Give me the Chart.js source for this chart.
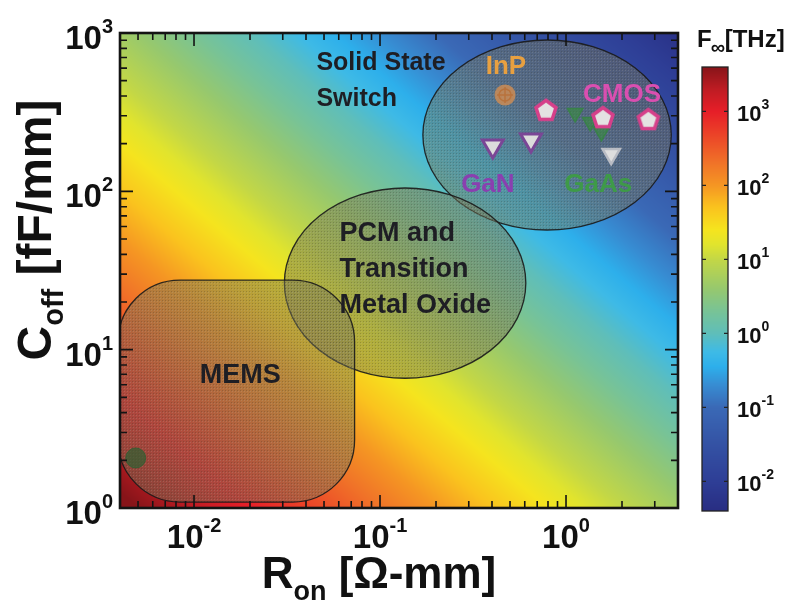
<!DOCTYPE html>
<html><head><meta charset="utf-8">
<script src="https://cdn.jsdelivr.net/npm/chart.js@4.4.0/dist/chart.umd.min.js"></script>
<style>
html,body{margin:0;padding:0;background:#fff;}
#wrap{position:relative;width:791px;height:612px;overflow:hidden;}
#wrap canvas{position:absolute;left:0;top:0;}
</style>
</head><body>
<div id="wrap"><canvas id="main" width="791" height="612"></canvas><canvas id="cbar" width="791" height="612"></canvas></div>
<script>
// ---------------- DATA ----------------
const xLimits = [0.004, 4];          // R_on [Ohm-mm]
const yLimits = [1, 1000];           // C_off [fF/mm]
const xTickValues = [0.01, 0.1, 1];
const yTickValues = [1, 10, 100, 1000];
const cbLimits = [Math.pow(10, -2.4), Math.pow(10, 3.6)]; // F_co [THz]
const cbTickValues = [0.01, 0.1, 1, 10, 100, 1000];
const fcScale = 20;                   // F_co [THz] = fcScale / (R_on * C_off)

const inpR = [0.47];              const inpC = [406];
const cmosR = [0.78, 1.58, 2.77]; const cmosC = [327, 294, 286];
const ganR = [0.404, 0.648];      const ganC = [193, 211];
const gaasR = [1.12, 1.35, 1.55]; const gaasC = [312, 274, 237];
const gaasOtherR = [1.75];        const gaasOtherC = [172];
const memsDevR = [0.00486];       const memsDevC = [2.07];

const regionNames = ['Solid State Switch', 'PCM and Transition Metal Oxide', 'MEMS'];
const regionRmin = [0.17, 0.0306, 0.0039];
const regionRmax = [3.68, 0.608, 0.073];
const regionCmin = [57, 6.6, 1.09];
const regionCmax = [903, 105, 27.5];

const regionLabelLines = [['Solid State', 'Switch'], ['PCM and', 'Transition', 'Metal Oxide'], ['MEMS']];
const regionLabelR = [0.0455, 0.0605, 0.0177];
const regionLabelC = [674, 56.1, 7.11];

const groupLabels = ['InP', 'CMOS', 'GaN', 'GaAs'];
const groupLabelR = [0.475, 2.0, 0.38, 1.49];
const groupLabelC = [637, 424, 114.6, 114.6];

// ---------------- STYLE ----------------
const cmapStops = [
  [-2.4, [40, 45, 130]], [-2.0, [46, 62, 150]], [-1.5, [52, 82, 164]], [-1.0, [58, 105, 182]],
  [-0.7, [55, 140, 210]], [-0.45, [45, 175, 235]], [-0.25, [62, 186, 230]], [0.0, [95, 190, 185]],
  [0.3, [120, 195, 150]], [0.6, [150, 200, 110]], [1.0, [195, 215, 70]], [1.2, [225, 228, 45]],
  [1.4, [245, 228, 30]], [1.7, [250, 195, 30]], [2.0, [245, 150, 35]], [2.3, [240, 115, 40]],
  [2.7, [235, 65, 40]], [3.0, [230, 30, 40]], [3.3, [190, 28, 35]], [3.6, [135, 20, 25]]
];
const regionShapes = ['ellipse', 'ellipse', 'roundrect'];
const regionLabelSizes = [25, 27, 27];
const groupLabelColors = ['#e8a040', '#d94fb0', '#8a3fb0', '#3e9a48'];
const FONT = '"Liberation Sans", Arial, Helvetica, sans-serif';

function cmap(logF) {
  if (logF <= cmapStops[0][0]) return cmapStops[0][1];
  const n = cmapStops.length;
  if (logF >= cmapStops[n - 1][0]) return cmapStops[n - 1][1];
  for (let i = 0; i < n - 1; i++) {
    const a = cmapStops[i], b = cmapStops[i + 1];
    if (logF >= a[0] && logF <= b[0]) {
      const t = (logF - a[0]) / (b[0] - a[0]);
      return [0, 1, 2].map(k => a[1][k] + (b[1][k] - a[1][k]) * t);
    }
  }
  return cmapStops[n - 1][1];
}
const zip = (xs, ys) => xs.map((x, i) => ({ x: x, y: ys[i] }));

function drawText(ctx, s, x, y, size, color, align) {
  ctx.save();
  ctx.font = 'bold ' + size + 'px ' + FONT;
  ctx.fillStyle = color; ctx.textBaseline = 'alphabetic'; ctx.textAlign = align || 'left';
  ctx.fillText(s, x, y);
  ctx.restore();
}
function measure(ctx, s, size) { ctx.save(); ctx.font = 'bold ' + size + 'px ' + FONT; const w = ctx.measureText(s).width; ctx.restore(); return w; }
function expLabel(v) { return String(Math.round(Math.log10(v))); }

// ---------- marker images ----------
function makeInP() {
  const c = document.createElement('canvas'); c.width = 24; c.height = 24; const g = c.getContext('2d');
  g.fillStyle = 'rgba(205,140,85,0.85)'; g.beginPath(); g.arc(12, 12, 10.5, 0, Math.PI * 2); g.fill();
  g.strokeStyle = 'rgba(185,115,60,1)'; g.lineWidth = 1.5;
  g.beginPath(); g.arc(12, 12, 6, 0, Math.PI * 2); g.stroke();
  g.beginPath(); g.moveTo(12, 4); g.lineTo(12, 20); g.moveTo(4, 12); g.lineTo(20, 12); g.stroke();
  return c;
}
function makePentagon() {
  const c = document.createElement('canvas'); c.width = 28; c.height = 28; const g = c.getContext('2d');
  g.beginPath();
  for (let i = 0; i < 5; i++) {
    const a = -Math.PI / 2 + i * 2 * Math.PI / 5;
    const px = 14 + 10.5 * Math.cos(a), py = 15 + 10.5 * Math.sin(a);
    if (i === 0) g.moveTo(px, py); else g.lineTo(px, py);
  }
  g.closePath();
  g.fillStyle = '#e4e2e2'; g.fill();
  g.strokeStyle = '#d6408a'; g.lineWidth = 3.5; g.stroke();
  return c;
}
function makeRegionPattern(ctx) {
  const c = document.createElement('canvas'); c.width = 3; c.height = 3; const g = c.getContext('2d');
  g.fillStyle = 'rgba(115,115,85,0.48)'; g.fillRect(0, 0, 3, 3);
  g.fillStyle = 'rgba(50,50,40,0.25)'; g.fillRect(0, 0, 1, 1);
  g.fillStyle = 'rgba(200,200,190,0.18)'; g.fillRect(1, 1, 1, 1);
  return ctx.createPattern(c, 'repeat');
}

// ---------- main chart plugins ----------
const heatmapPlugin = {
  id: 'heatmap',
  beforeDatasetsDraw(chart) {
    const ctx = chart.ctx, ca = chart.chartArea, xs = chart.scales.x, ys = chart.scales.y;
    const L = Math.round(ca.left), T = Math.round(ca.top);
    const w = Math.round(ca.right) - L, h = Math.round(ca.bottom) - T;
    const img = ctx.createImageData(w, h);
    const lr = new Float64Array(w), lc = new Float64Array(h);
    for (let i = 0; i < w; i++) lr[i] = Math.log10(xs.getValueForPixel(L + i + 0.5));
    for (let j = 0; j < h; j++) lc[j] = Math.log10(ys.getValueForPixel(T + j + 0.5));
    const lk = Math.log10(fcScale);
    for (let j = 0; j < h; j++) for (let i = 0; i < w; i++) {
      const col = cmap(lk - lr[i] - lc[j]);
      const p = (j * w + i) * 4;
      img.data[p] = col[0]; img.data[p + 1] = col[1]; img.data[p + 2] = col[2]; img.data[p + 3] = 255;
    }
    ctx.putImageData(img, L, T);
    const pat = makeRegionPattern(ctx);
    ctx.save();
    ctx.beginPath(); ctx.rect(ca.left, ca.top, ca.right - ca.left, ca.bottom - ca.top); ctx.clip();
    for (let k = 0; k < regionNames.length; k++) {
      const x0 = xs.getPixelForValue(regionRmin[k]), x1 = xs.getPixelForValue(regionRmax[k]);
      const y0 = ys.getPixelForValue(regionCmax[k]), y1 = ys.getPixelForValue(regionCmin[k]);
      ctx.beginPath();
      if (regionShapes[k] === 'ellipse') {
        ctx.ellipse((x0 + x1) / 2, (y0 + y1) / 2, (x1 - x0) / 2, (y1 - y0) / 2, 0, 0, Math.PI * 2);
      } else {
        ctx.roundRect(x0, y0, x1 - x0, y1 - y0, 62);
      }
      ctx.fillStyle = pat; ctx.fill();
      ctx.strokeStyle = 'rgba(25,25,25,0.9)'; ctx.lineWidth = 1.3; ctx.stroke();
    }
    ctx.restore();
  },
  afterDatasetsDraw(chart) {
    const ctx = chart.ctx, xs = chart.scales.x, ys = chart.scales.y;
    for (let k = 0; k < regionLabelLines.length; k++) {
      const px = xs.getPixelForValue(regionLabelR[k]), py = ys.getPixelForValue(regionLabelC[k]);
      const align = regionShapes[k] === 'roundrect' ? 'center' : 'left';
      regionLabelLines[k].forEach((s, i) => drawText(ctx, s, px, py + 10 + i * 36, regionLabelSizes[k], '#1e1e24', align));
    }
    for (let k = 0; k < groupLabels.length; k++) {
      const px = xs.getPixelForValue(groupLabelR[k]), py = ys.getPixelForValue(groupLabelC[k]);
      drawText(ctx, groupLabels[k], px, py + 10, 26, groupLabelColors[k], 'center');
    }
  },
  afterDraw(chart) {
    const ctx = chart.ctx, ca = chart.chartArea, xs = chart.scales.x, ys = chart.scales.y;
    ctx.save();
    ctx.strokeStyle = '#141414'; ctx.lineWidth = 1.6;
    for (let d = -3; d <= 1; d++) for (let m = 1; m <= 9; m++) {
      const v = m * Math.pow(10, d);
      if (v < xLimits[0] || v > xLimits[1]) continue;
      const px = xs.getPixelForValue(v), len = m === 1 ? 13 : 7;
      ctx.beginPath(); ctx.moveTo(px, ca.bottom); ctx.lineTo(px, ca.bottom - len);
      ctx.moveTo(px, ca.top); ctx.lineTo(px, ca.top + len); ctx.stroke();
    }
    for (let d = 0; d <= 3; d++) for (let m = 1; m <= 9; m++) {
      const v = m * Math.pow(10, d);
      if (v < yLimits[0] || v > yLimits[1]) continue;
      const py = ys.getPixelForValue(v), len = m === 1 ? 13 : 7;
      ctx.beginPath(); ctx.moveTo(ca.left, py); ctx.lineTo(ca.left + len, py);
      ctx.moveTo(ca.right, py); ctx.lineTo(ca.right - len, py); ctx.stroke();
    }
    ctx.lineWidth = 2.6; ctx.strokeRect(ca.left, ca.top, ca.right - ca.left, ca.bottom - ca.top);
    ctx.restore();
    const S = 33, SS = 20;
    xTickValues.forEach(v => {
      const px = xs.getPixelForValue(v), e = expLabel(v);
      const w1 = measure(ctx, '10', S), w2 = measure(ctx, e, SS);
      const x0 = px - (w1 + w2) / 2;
      drawText(ctx, '10', x0, 548, S, '#111');
      drawText(ctx, e, x0 + w1, 532, SS, '#111');
    });
    yTickValues.forEach(v => {
      const py = ys.getPixelForValue(v), e = expLabel(v);
      const w1 = measure(ctx, '10', S), w2 = measure(ctx, e, SS);
      const x0 = 113 - w1 - w2;
      drawText(ctx, '10', x0, py + 16, S, '#111');
      drawText(ctx, e, x0 + w1, py, SS, '#111');
    });
    {
      const T = 44, TS = 27;
      const a = 'R', b = 'on', c = ' [\u03A9-mm]';
      const wa = measure(ctx, a, T), wb = measure(ctx, b, TS), wc = measure(ctx, c, T);
      const x0 = 379 - (wa + wb + wc) / 2;
      drawText(ctx, a, x0, 588, T, '#111');
      drawText(ctx, b, x0 + wa, 600, TS, '#111');
      drawText(ctx, c, x0 + wa + wb, 588, T, '#111');
    }
    {
      const T = 48, TS = 29;
      ctx.save();
      ctx.translate(51, 230); ctx.rotate(-Math.PI / 2);
      const a = 'C', b = 'off', c = ' [fF/mm]';
      const wa = measure(ctx, a, T), wb = measure(ctx, b, TS), wc = measure(ctx, c, T);
      const x0 = -(wa + wb + wc) / 2;
      drawText(ctx, a, x0, 0, T, '#111');
      drawText(ctx, b, x0 + wa, 12, TS, '#111');
      drawText(ctx, c, x0 + wa + wb, 0, T, '#111');
      ctx.restore();
    }
  }
};

new Chart(document.getElementById('main'), {
  type: 'scatter',
  data: {
    datasets: [
      { label: 'InP', data: zip(inpR, inpC), pointStyle: makeInP(), pointRadius: 10 },
      { label: 'CMOS', data: zip(cmosR, cmosC), pointStyle: makePentagon(), pointRadius: 12 },
      { label: 'GaN', data: zip(ganR, ganC), pointStyle: 'triangle', rotation: 180, pointRadius: 12,
        backgroundColor: '#dcdcdc', borderColor: '#7a4696', borderWidth: 3 },
      { label: 'GaAs', data: zip(gaasR, gaasC), pointStyle: 'triangle', rotation: 180, pointRadius: 9,
        backgroundColor: 'rgba(55,140,60,0.6)', borderColor: 'rgba(50,135,60,0.7)', borderWidth: 1.5 },
      { label: 'GaAs2', data: zip(gaasOtherR, gaasOtherC), pointStyle: 'triangle', rotation: 180, pointRadius: 10,
        backgroundColor: '#dedede', borderColor: '#b9bcc4', borderWidth: 2.5 },
      { label: 'MEMS device', data: zip(memsDevR, memsDevC), pointStyle: 'circle', pointRadius: 10,
        backgroundColor: 'rgba(45,95,50,0.7)', borderColor: 'rgba(45,95,50,0.8)', borderWidth: 1 }
    ]
  },
  options: {
    responsive: false, animation: false, devicePixelRatio: 1, events: [],
    layout: { padding: { left: 120, top: 33, right: 113, bottom: 104 } },
    plugins: { legend: { display: false }, tooltip: { enabled: false } },
    scales: {
      x: { type: 'logarithmic', min: xLimits[0], max: xLimits[1], display: false },
      y: { type: 'logarithmic', min: yLimits[0], max: yLimits[1], display: false }
    }
  },
  plugins: [heatmapPlugin]
});

// ---------- colorbar chart ----------
const colorbarPlugin = {
  id: 'colorbar',
  beforeDatasetsDraw(chart) {
    const ctx = chart.ctx, ca = chart.chartArea, ys = chart.scales.y;
    for (let py = Math.floor(ca.top); py < Math.ceil(ca.bottom); py++) {
      const v = ys.getValueForPixel(py + 0.5);
      const c = cmap(Math.log10(v));
      ctx.fillStyle = 'rgb(' + c.map(Math.round).join(',') + ')';
      ctx.fillRect(ca.left, py, ca.right - ca.left, 1);
    }
    ctx.save();
    ctx.strokeStyle = '#222'; ctx.lineWidth = 1.3;
    cbTickValues.forEach(v => {
      const py = ys.getPixelForValue(v);
      ctx.beginPath(); ctx.moveTo(ca.left, py); ctx.lineTo(ca.left + 4, py);
      ctx.moveTo(ca.right, py); ctx.lineTo(ca.right - 4, py); ctx.stroke();
    });
    ctx.strokeRect(ca.left, ca.top, ca.right - ca.left, ca.bottom - ca.top);
    ctx.restore();
    const S = 22, SS = 14;
    cbTickValues.forEach(v => {
      const py = ys.getPixelForValue(v), e = expLabel(v);
      const w1 = measure(ctx, '10', S);
      drawText(ctx, '10', 737, py + 10, S, '#111');
      drawText(ctx, e, 737 + w1, py - 2, SS, '#111');
    });
    const wF = measure(ctx, 'F', 24);
    drawText(ctx, 'F', 697, 47, 24, '#111');
    drawText(ctx, '\u221E', 697 + wF - 1, 54, 20, '#111');
    drawText(ctx, '[THz]', 697 + wF + 13, 47, 24, '#111');
  }
};
new Chart(document.getElementById('cbar'), {
  type: 'scatter',
  data: { datasets: [{ data: [] }] },
  options: {
    responsive: false, animation: false, devicePixelRatio: 1, events: [],
    layout: { padding: { left: 702, top: 67, right: 63, bottom: 101 } },
    plugins: { legend: { display: false }, tooltip: { enabled: false } },
    scales: {
      x: { type: 'linear', display: false },
      y: { type: 'logarithmic', min: cbLimits[0], max: cbLimits[1], display: false }
    }
  },
  plugins: [colorbarPlugin]
});
</script>
</body></html>
